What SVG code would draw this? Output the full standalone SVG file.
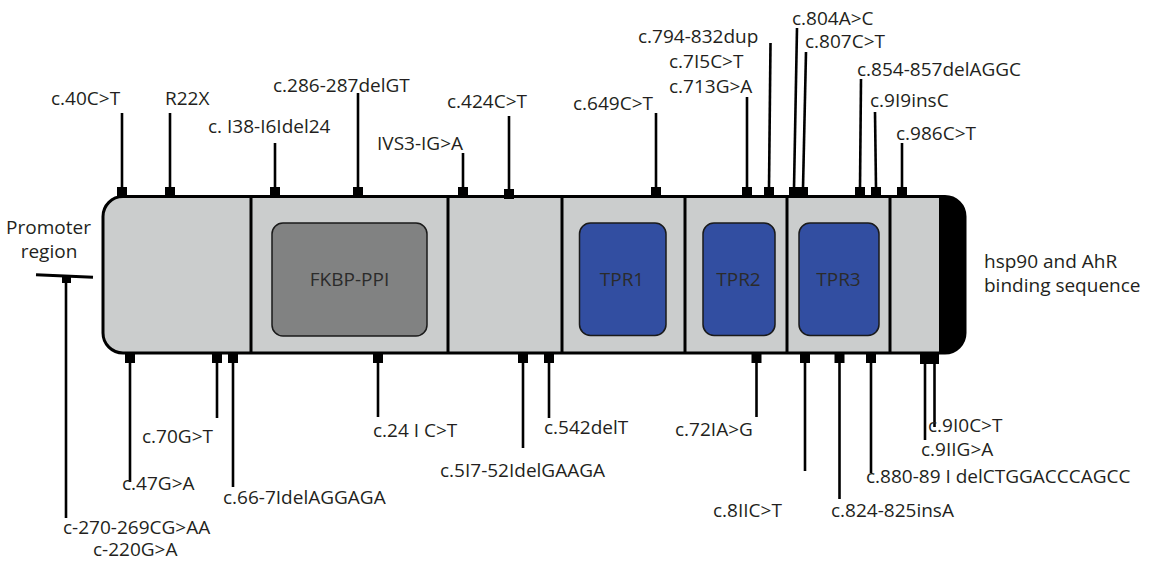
<svg xmlns="http://www.w3.org/2000/svg" width="1149" height="562" viewBox="0 0 1149 562">
<style>
.lbl{font-family:"Open Sans","Noto Sans","DejaVu Sans",sans-serif;font-size:19px;fill:#231f20}
.dom{font-family:"Open Sans","Noto Sans","DejaVu Sans",sans-serif;font-size:19px;fill:#2b2b2b;text-anchor:middle}
.stem{stroke:#000;stroke-width:2.6;fill:none}
.mk{fill:#000}
.div{stroke:#000;stroke-width:3}
.tpr{fill:#324ea1;stroke:#1a1a1a;stroke-width:1.5}
</style>
<rect width="1149" height="562" fill="#fff"/>

<g id="protein">
  <path d="M123,196.5 H945 A20,20 0 0 1 965,216.5 V333 A20,20 0 0 1 945,353 H123 A20,20 0 0 1 103,333 V216.5 A20,20 0 0 1 123,196.5 Z" fill="#cbcdcd" stroke="#000" stroke-width="3"/>
  <path d="M939,196.5 H945 A20,20 0 0 1 965,216.5 V333 A20,20 0 0 1 945,353 H939 Z" fill="#000"/>
  <line class="div" x1="251" y1="196.5" x2="251" y2="353"/>
  <line class="div" x1="448" y1="196.5" x2="448" y2="353"/>
  <line class="div" x1="562" y1="196.5" x2="562" y2="353"/>
  <line class="div" x1="685" y1="196.5" x2="685" y2="353"/>
  <line class="div" x1="787" y1="196.5" x2="787" y2="353"/>
  <line class="div" x1="890" y1="196.5" x2="890" y2="353"/>
</g>
<g id="fkbp">
  <rect x="272" y="223" width="155" height="113" rx="11" fill="#818282" stroke="#1a1a1a" stroke-width="1.5"/>
  <text class="dom" x="349.5" y="286">FKBP-PPI</text>
</g>
<g id="tpr1">
  <rect class="tpr" x="579.5" y="223" width="86.5" height="112.5" rx="11"/>
  <text class="dom" x="622" y="286">TPR1</text>
</g>
<g id="tpr2">
  <rect class="tpr" x="703" y="223" width="72" height="112.5" rx="11"/>
  <text class="dom" x="738.5" y="286">TPR2</text>
</g>
<g id="tpr3">
  <rect class="tpr" x="799" y="223" width="80" height="112.5" rx="11"/>
  <text class="dom" x="838.5" y="286">TPR3</text>
</g>

<g id="promoter">
  <text class="lbl" x="48.5" y="234" text-anchor="middle">Promoter</text>
  <text class="lbl" x="49" y="258" text-anchor="middle">region</text>
  <line x1="36" y1="274.7" x2="93" y2="277.3" stroke="#000" stroke-width="3"/>
  <rect class="mk" x="62" y="276" width="9" height="7"/>
</g>
<g id="hsp90-label">
  <text class="lbl" x="984" y="268">hsp90 and AhR</text>
  <text class="lbl" x="984" y="292">binding sequence</text>
</g>

<g id="connectors">
  <line class="stem" x1="122" y1="113" x2="122" y2="188"/>
  <line class="stem" x1="170" y1="113" x2="170" y2="188"/>
  <line class="stem" x1="275" y1="143" x2="275" y2="188"/>
  <line class="stem" x1="358" y1="93" x2="358" y2="188"/>
  <line class="stem" x1="463" y1="153" x2="463" y2="188"/>
  <line class="stem" x1="509" y1="116" x2="509" y2="190"/>
  <line class="stem" x1="656" y1="113" x2="656" y2="188"/>
  <line class="stem" x1="747" y1="97" x2="747" y2="188"/>
  <line class="stem" x1="770.5" y1="43" x2="769" y2="188"/>
  <line class="stem" x1="797" y1="28" x2="794" y2="188"/>
  <line class="stem" x1="806" y1="52" x2="803" y2="188"/>
  <line class="stem" x1="861" y1="79" x2="860" y2="188"/>
  <line class="stem" x1="875" y1="112" x2="876" y2="188"/>
  <line class="stem" x1="902" y1="143" x2="902" y2="188"/>
  <line class="stem" x1="66" y1="280" x2="66" y2="518"/>
  <line class="stem" x1="130" y1="362" x2="130" y2="482"/>
  <line class="stem" x1="217" y1="362" x2="217" y2="418"/>
  <line class="stem" x1="233" y1="362" x2="233" y2="487"/>
  <line class="stem" x1="378" y1="362" x2="378" y2="417"/>
  <line class="stem" x1="523" y1="362" x2="523" y2="448"/>
  <line class="stem" x1="549" y1="362" x2="549" y2="418"/>
  <line class="stem" x1="756.5" y1="362" x2="756.5" y2="417"/>
  <line class="stem" x1="805" y1="362" x2="805" y2="471"/>
  <line class="stem" x1="839.5" y1="362" x2="839.5" y2="499"/>
  <line class="stem" x1="871" y1="362" x2="871" y2="473"/>
  <line class="stem" x1="925" y1="362" x2="925" y2="440"/>
  <line class="stem" x1="934.5" y1="362" x2="934.5" y2="427"/>
</g>

<g id="top-mutations">
  <g id="m-c40"><rect class="mk" x="117" y="187" width="10" height="10"/><text class="lbl" x="51" y="105">c.40C&gt;T</text></g>
  <g id="m-r22x"><rect class="mk" x="165" y="187" width="10" height="10"/><text class="lbl" x="165" y="105">R22X</text></g>
  <g id="m-c138"><rect class="mk" x="270" y="187" width="10" height="10"/><text class="lbl" x="208" y="133">c. I38-I6Idel24</text></g>
  <g id="m-c286"><rect class="mk" x="353" y="187" width="10" height="10"/><text class="lbl" x="273" y="92">c.286-287delGT</text></g>
  <g id="m-ivs3"><rect class="mk" x="458" y="187" width="10" height="10"/><text class="lbl" x="377" y="150">IVS3-IG&gt;A</text></g>
  <g id="m-c424"><rect class="mk" x="504" y="189" width="10" height="10"/><text class="lbl" x="447" y="108">c.424C&gt;T</text></g>
  <g id="m-c649"><rect class="mk" x="651" y="187" width="10" height="10"/><text class="lbl" x="573" y="110">c.649C&gt;T</text></g>
  <g id="m-c713"><rect class="mk" x="742" y="187" width="10" height="10"/><text class="lbl" x="669" y="68">c.7I5C&gt;T</text><text class="lbl" x="669" y="93">c.713G&gt;A</text></g>
  <g id="m-c794"><rect class="mk" x="764" y="187" width="10" height="10"/><text class="lbl" x="638" y="43">c.794-832dup</text></g>
  <g id="m-c804"><rect class="mk" x="789" y="187" width="19" height="10"/><text class="lbl" x="792" y="25">c.804A&gt;C</text><text class="lbl" x="805" y="48">c.807C&gt;T</text></g>
  <g id="m-c854"><rect class="mk" x="855" y="187" width="10" height="10"/><text class="lbl" x="857" y="76">c.854-857delAGGC</text></g>
  <g id="m-c919"><rect class="mk" x="871" y="187" width="10" height="10"/><text class="lbl" x="870" y="107">c.9I9insC</text></g>
  <g id="m-c986"><rect class="mk" x="897" y="187" width="10" height="10"/><text class="lbl" x="896" y="140">c.986C&gt;T</text></g>
</g>

<g id="bottom-mutations">
  <g id="m-promoter"><text class="lbl" x="63" y="534">c-270-269CG&gt;AA</text><text class="lbl" x="93" y="556">c-220G&gt;A</text></g>
  <g id="m-c47"><rect class="mk" x="125" y="353" width="10" height="10"/><text class="lbl" x="122" y="490">c.47G&gt;A</text></g>
  <g id="m-c70"><rect class="mk" x="212" y="353" width="10" height="10"/><text class="lbl" x="142" y="443">c.70G&gt;T</text></g>
  <g id="m-c66"><rect class="mk" x="228" y="353" width="10" height="10"/><text class="lbl" x="223" y="504">c.66-7IdelAGGAGA</text></g>
  <g id="m-c241"><rect class="mk" x="373" y="353" width="10" height="10"/><text class="lbl" x="373" y="437">c.24 I C&gt;T</text></g>
  <g id="m-c517"><rect class="mk" x="518" y="353" width="10" height="10"/><text class="lbl" x="440" y="477">c.5I7-52IdelGAAGA</text></g>
  <g id="m-c542"><rect class="mk" x="544" y="353" width="10" height="10"/><text class="lbl" x="544" y="434">c.542delT</text></g>
  <g id="m-c721"><rect class="mk" x="751.5" y="353" width="10" height="10"/><text class="lbl" x="675" y="436">c.72IA&gt;G</text></g>
  <g id="m-c811"><rect class="mk" x="800" y="353" width="10" height="10"/><text class="lbl" x="713" y="517">c.8IIC&gt;T</text></g>
  <g id="m-c824"><rect class="mk" x="834.5" y="353" width="10" height="10"/><text class="lbl" x="831" y="517">c.824-825insA</text></g>
  <g id="m-c880"><rect class="mk" x="866" y="353" width="10" height="10"/><text class="lbl" x="866" y="483">c.880-89 I delCTGGACCCAGCC</text></g>
  <g id="m-c910"><rect class="mk" x="920" y="353" width="19" height="11"/><text class="lbl" x="928" y="432">c.9I0C&gt;T</text><text class="lbl" x="921" y="456">c.9IIG&gt;A</text></g>
</g>
</svg>
